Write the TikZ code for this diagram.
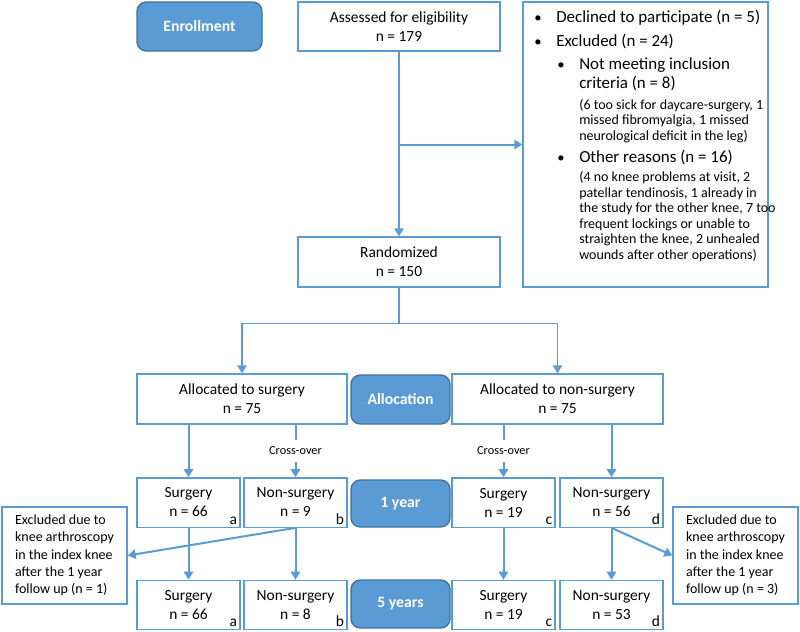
\documentclass[tikz,border=0pt]{standalone}
\usepackage{fontspec}
\setmainfont{Carlito}
\usetikzlibrary{arrows.meta}
\definecolor{flowblue}{HTML}{5B9BD5}
\definecolor{flowdark}{HTML}{41719C}
\tikzset{
  box/.style={draw=flowblue, line width=1pt, fill=white, align=center, inner sep=0pt,
    font=\fontsize{11.6}{14.25}\selectfont},
  stage/.style={draw=flowdark, line width=1pt, fill=flowblue, rounded corners=7pt,
    text=white, inner sep=0pt, font=\fontsize{11.8}{12}\selectfont\bfseries},
  sidebox/.style={box, align=left, font=\fontsize{10.5}{13}\selectfont},
  arr/.style={draw=flowblue, line width=1.5pt, -{Triangle[length=6pt,width=7pt]}},
  thinarr/.style={arr, line width=1.2pt},
  conn/.style={draw=flowblue, line width=1.2pt},
  dot/.style={anchor=base, inner sep=0pt, font=\fontsize{11}{12}\selectfont},
  item/.style={anchor=base west, inner sep=0pt, align=left, font=\fontsize{12.7}{14.25}\selectfont},
  note/.style={anchor=base west, inner sep=0pt, align=left, font=\fontsize{10.5}{11.6}\selectfont},
  letter/.style={anchor=south east, inner sep=2.5pt, font=\fontsize{11.6}{12}\selectfont},
  cross/.style={fill=white, inner xsep=1pt, inner ysep=5pt, font=\fontsize{9.2}{10}\selectfont}
}
\begin{document}
\begin{tikzpicture}[x=0.75pt, y=-0.75pt]
\useasboundingbox (0,0) rectangle (800,632);

% enrollment
\node[stage, minimum width=93.75pt, minimum height=36.75pt] (enroll) at (199.5,26.5) {Enrollment};
\node[box, minimum width=151.5pt, minimum height=36.75pt] (assess) at (399,26.5) {Assessed for eligibility\\n = 179};
\node[box, minimum width=183.75pt, minimum height=213.75pt] (excl) at (645.5,144.5) {};
% bullets (base = last line of each text)
\foreach \bx/\by/\bn in {538/22/b1, 538/46/b2, 561/69/b3, 561/162/b4}
  \node[dot] (\bn) at (\bx,\by) {\textbullet};
\node[item] (decl) at (556,22) {Declined to participate (n = 5)};
\node[item] (excd) at (556,46) {Excluded (n = 24)};
\node[item] (notmeet) at (579,88) {Not meeting inclusion\\criteria (n = 8)};
\node[note] (notmeetnote) at (579,140) {(6 too sick for daycare-surgery, 1\\missed fibromyalgia, 1 missed\\neurological deficit in the leg)};
\node[item] (other) at (579,162) {Other reasons (n = 16)};
\node[note] (othernote) at (579,259) {(4 no knee problems at visit, 2\\patellar tendinosis, 1 already in\\the study for the other knee, 7 too\\frequent lockings or unable to\\straighten the knee, 2 unhealed\\wounds after other operations)};
\node[box, minimum width=151.5pt, minimum height=37.5pt] (rand) at (399,262) {Randomized\\n = 150};

% allocation
\node[box, minimum width=157.5pt, minimum height=37.5pt] (allocS) at (242,399) {Allocated to surgery\\n = 75};
\node[stage, minimum width=74.25pt, minimum height=36.75pt] (alloc) at (400.5,399.5) {Allocation};
\node[box, minimum width=158.25pt, minimum height=37.5pt] (allocN) at (557.5,399) {Allocated to non-surgery\\n = 75};

% follow up
\node[stage, minimum width=74.25pt, minimum height=35.25pt] (yr1) at (400.5,503.5) {1 year};
\node[stage, minimum width=74.25pt, minimum height=36pt] (yr5) at (400.5,604) {5 years};
\foreach \nm/\xx/\yy/\lab/\n/\ltr in {
    s1a/188.5/502.5/Surgery/66/a, n1b/295.5/502.5/Non-surgery/9/b,
    s1c/503.5/502.5/Surgery/19/c, n1d/611.5/502.5/Non-surgery/56/d,
    s5a/188.5/605/Surgery/66/a, n5b/295.5/605/Non-surgery/8/b,
    s5c/503.5/605/Surgery/19/c, n5d/611.5/605/Non-surgery/53/d} {
  \node[box, minimum width=77.25pt, minimum height=37pt] (\nm) at (\xx,\yy) {\lab\\n = \n};
  \node[letter] (\nm-l) at (\nm.south east) {\ltr};
}
\node[sidebox, minimum width=93.75pt, minimum height=72.75pt] (exL) at (64.5,555.5)
  {Excluded due to\\knee arthroscopy\\in the index knee\\after the 1 year\\follow up (n = 1)};
\node[sidebox, minimum width=93.75pt, minimum height=72.75pt] (exR) at (735.5,555.5)
  {Excluded due to\\knee arthroscopy\\in the index knee\\after the 1 year\\follow up (n = 3)};

% connectors
\draw[arr] (assess) -- (rand);
\draw[arr] (assess.south |- excl.west) -- (excl.west);
\draw[conn] (rand.south) -- ++(0,36) coordinate (split);
\draw[thinarr] (split) -| (allocS.north);
\draw[thinarr] (split) -| (allocN.north);
\draw[arr] (allocS.south -| s1a.north) -- (s1a.north);
\draw[arr] (allocS.south -| n1b.north) -- node[cross] (crossL) {Cross-over} (n1b.north);
\draw[arr] (allocN.south -| s1c.north) -- node[cross] (crossR) {Cross-over} (s1c.north);
\draw[arr] (allocN.south -| n1d.north) -- (n1d.north);
\draw[arr] (s1a) -- (s5a);
\draw[arr] (n1b) -- (n5b);
\draw[arr] (s1c) -- (s5c);
\draw[arr] (n1d) -- (n5d);
\draw[arr] (n1b.south) -- (exL.east);
\draw[arr] (n1d.south) -- (exR.west);
\end{tikzpicture}
\end{document}
